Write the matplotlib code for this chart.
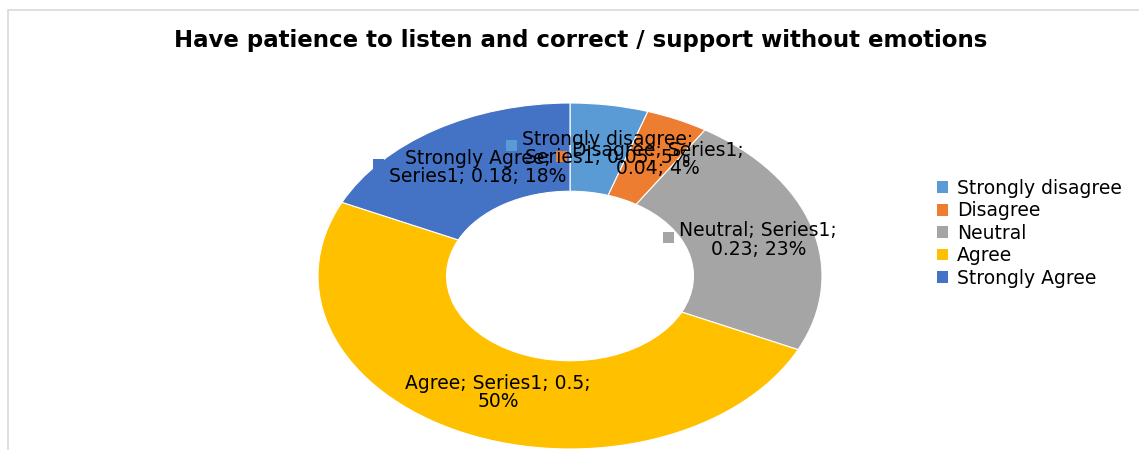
import matplotlib
matplotlib.use("Agg")
import matplotlib.pyplot as plt
from matplotlib.patches import Rectangle, Patch
import numpy as np

# Survey responses
categories = ["Strongly disagree", "Disagree", "Neutral", "Agree", "Strongly Agree"]
values = [0.05, 0.04, 0.23, 0.5, 0.18]
series_name = "Series1"
colors = ["#5B9BD5", "#ED7D31", "#A5A5A5", "#FFC000", "#4472C4"]
title = "Have patience to listen and correct / support without emotions"
# how many "; "-separated parts of each data label go on its first line
label_first_line_parts = [1, 2, 2, 3, 1]

W, H = 1139, 450
fig = plt.figure(figsize=(W / 100, H / 100), dpi=100)
fig.patch.set_facecolor("white")

FONT = "DejaVu Sans"
LABEL_SIZE = 13.5
LEGEND_SIZE = 13.5
TITLE_SIZE = 16.5


def to_fig(xp, yp):
    """Top-left pixel position -> figure fraction."""
    return xp / W, 1 - yp / H


# chart area border (clipped on the right and bottom)
fig.add_artist(Rectangle(to_fig(8, 470), (W + 20) / W, 460 / H,
                         transform=fig.transFigure, fill=False,
                         edgecolor="#d9d9d9", linewidth=1.2))

# title
tx, ty = to_fig(581, 41)
fig.text(tx, ty, title, ha="center", va="center", fontsize=TITLE_SIZE,
         fontweight="bold", family=FONT, color="#000000")

# doughnut
ax = fig.add_axes([318 / W, 1 - 449 / H, 504 / W, 346 / H])
hole = 0.49
ax.pie(values, colors=colors, startangle=90, counterclock=False, radius=1,
       wedgeprops=dict(width=1 - hole, edgecolor="white", linewidth=0.8))
ax.set_aspect("auto")
ax.set_xlim(-1, 1)
ax.set_ylim(-1, 1)
ax.axis("off")

# data labels: legend key + "category; series; value; percent", centred on the ring
fig.canvas.draw()
renderer = fig.canvas.get_renderer()
to_frac = fig.transFigure.inverted()
key = 11      # key square size, px
gap = 5       # key to text gap, px
r_mid = (1 + hole) / 2
cum = 0.0
total = sum(values)
for cat, v, col, nfirst in zip(categories, values, colors, label_first_line_parts):
    frac_mid = (cum + v / 2) / total
    cum += v
    ang = np.deg2rad(90 - 360 * frac_mid)
    cx, cy = ax.transData.transform((r_mid * np.cos(ang), r_mid * np.sin(ang)))
    parts = [cat, series_name, f"{v:g}", f"{round(v / total * 100):d}%"]
    text = "; ".join(parts[:nfirst]) + ";\n" + "; ".join(parts[nfirst:])
    t = fig.text(0, 0, text, ha="center", va="center", fontsize=LABEL_SIZE,
                 family=FONT, color="#000000", linespacing=0.95, zorder=5)
    tw = t.get_window_extent(renderer).width
    block = key + gap + tw
    left = cx - block / 2
    t.set_position(to_frac.transform((left + key + gap + tw / 2, cy)))
    kx, ky = to_frac.transform((left, cy + 3 - key / 2))
    kw, kh = to_frac.transform((left + key, cy + 3 + key / 2)) - np.array([kx, ky])
    fig.add_artist(Rectangle((kx, ky), kw, kh, transform=fig.transFigure,
                             facecolor=col, edgecolor="none", zorder=5))

# legend
handles = [Patch(facecolor=c, edgecolor="none") for c in colors]
lx, ly = to_fig(937, 179)
fig.legend(handles, categories, loc="upper left", bbox_to_anchor=(lx, ly),
           frameon=False, borderpad=0, borderaxespad=0, handlelength=0.6,
           handleheight=0.6, handletextpad=0.45, labelspacing=0.18,
           prop=dict(family=FONT, size=LEGEND_SIZE))

fig.savefig("out.png", dpi=100, facecolor="white")
